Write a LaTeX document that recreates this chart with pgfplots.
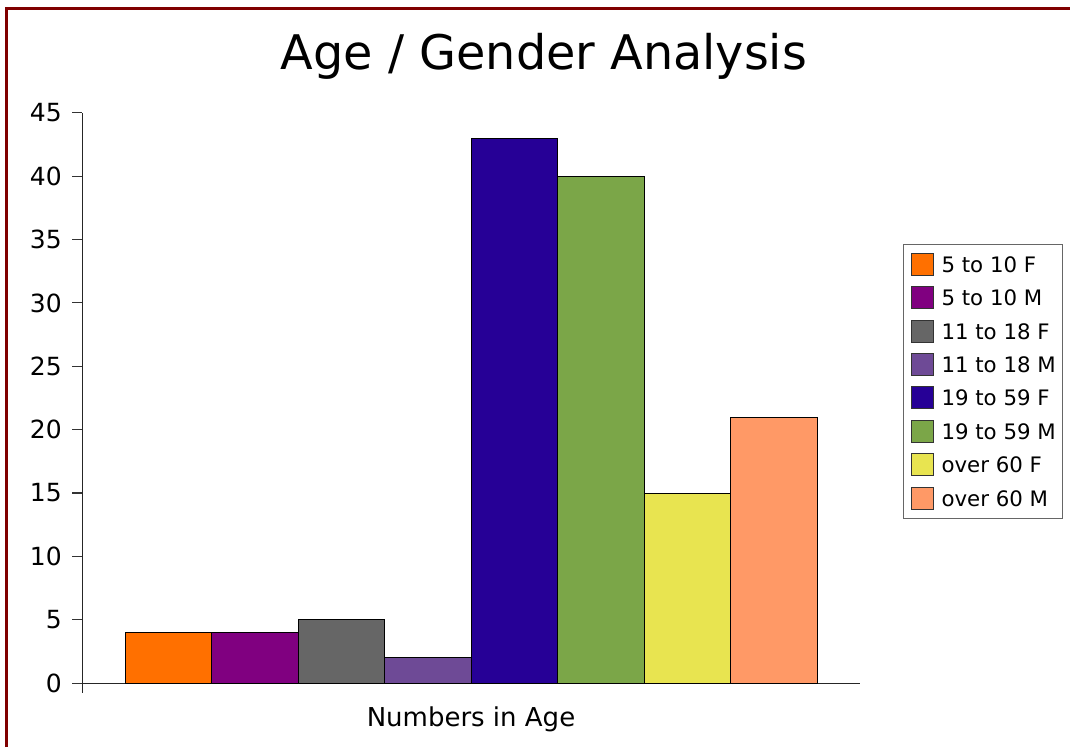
\documentclass[border=0pt]{standalone}
\usepackage{fontspec}
\setmainfont{DejaVu Sans}
\usepackage{pgfplots}
\pgfplotsset{compat=1.18}
\definecolor{c1}{RGB}{255,112,0}
\definecolor{c2}{RGB}{128,0,128}
\definecolor{c3}{RGB}{102,102,102}
\definecolor{c4}{RGB}{110,74,150}
\definecolor{c5}{RGB}{38,0,150}
\definecolor{c6}{RGB}{123,166,72}
\definecolor{c7}{RGB}{232,228,80}
\definecolor{c8}{RGB}{255,153,102}
\definecolor{framecol}{RGB}{128,0,0}
\begin{document}
\begin{tikzpicture}[x=1pt,y=1pt]
\useasboundingbox (0,0) rectangle (1070,747);
\fill[white] (0,0) rectangle (1070,747);
\draw[framecol, line width=3pt] (6.5,0) -- (6.5,738.5) -- (1070,738.5);
\node[font=\fontsize{47.7}{57}\selectfont, anchor=base, inner sep=0pt] at (544,677) {Age / Gender Analysis};
\begin{axis}[
  at={(82pt,64pt)}, anchor=south west,
  scale only axis, width=778pt, height=570pt,
  xmin=82, xmax=860, ymin=0, ymax=45,
  axis lines=left, axis line style={-, draw=black!85, line width=1pt},
  xtick=\empty, ytick={0,5,...,45},
  tick align=outside, major tick length=10pt,
  tick style={black!80, line width=1pt},
  ticklabel style={font=\fontsize{25}{30}\selectfont},
  /pgf/number format/assume math mode=true,
  yticklabel style={inner sep=0pt, anchor=east, xshift=-10pt},
  every axis x label/.style={at={(axis description cs:0.5,0)}, anchor=base, yshift=-43pt, font=\fontsize{26}{31}\selectfont},
  xlabel={Numbers in Age},
  clip=false,
  legend style={at={(axis description cs:1.0557,0.7702)}, anchor=north west,
    draw=black!60, line width=0.8pt, inner xsep=7pt, inner ysep=8.5pt,
    font=\fontsize{21.3}{25}\selectfont, row sep=10.6pt, column sep=8pt,
    nodes={inner sep=0pt, text height=19pt, text depth=3pt},
    cells={anchor=west}},
  legend image code/.code={\draw[#1, line width=0.8pt, draw=black!80] (0pt,-11pt) rectangle (22pt,11pt);},
]
\draw[black!85, line width=1pt] (axis cs:82,0) -- ++(0pt,-10pt);
\addplot[ybar, bar width=86.5, bar shift=0pt, fill=c1, draw=black, line width=0.8pt] coordinates {(168.25,4)};
\addlegendentry{5 to 10 F}
\addplot[ybar, bar width=86.5, bar shift=0pt, fill=c2, draw=black, line width=0.8pt] coordinates {(254.75,4)};
\addlegendentry{5 to 10 M}
\addplot[ybar, bar width=86.5, bar shift=0pt, fill=c3, draw=black, line width=0.8pt] coordinates {(341.25,5)};
\addlegendentry{11 to 18 F}
\addplot[ybar, bar width=86.5, bar shift=0pt, fill=c4, draw=black, line width=0.8pt] coordinates {(427.75,2)};
\addlegendentry{11 to 18 M}
\addplot[ybar, bar width=86.5, bar shift=0pt, fill=c5, draw=black, line width=0.8pt] coordinates {(514.25,43)};
\addlegendentry{19 to 59 F}
\addplot[ybar, bar width=86.5, bar shift=0pt, fill=c6, draw=black, line width=0.8pt] coordinates {(600.75,40)};
\addlegendentry{19 to 59 M}
\addplot[ybar, bar width=86.5, bar shift=0pt, fill=c7, draw=black, line width=0.8pt] coordinates {(687.25,15)};
\addlegendentry{over 60 F}
\addplot[ybar, bar width=86.5, bar shift=0pt, fill=c8, draw=black, line width=0.8pt] coordinates {(773.75,21)};
\addlegendentry{over 60 M}
\end{axis}
\end{tikzpicture}
\end{document}
